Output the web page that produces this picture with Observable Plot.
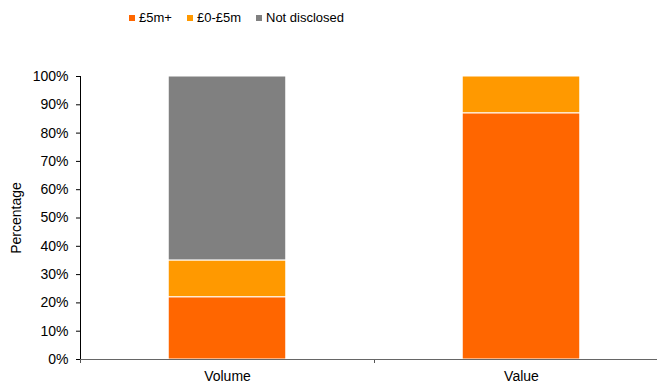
<!DOCTYPE html>
<html>
<head>
<meta charset="utf-8">
<script src="https://cdn.jsdelivr.net/npm/d3@7"></script>
<script src="https://cdn.jsdelivr.net/npm/@observablehq/plot@0.6"></script>
<style>
  html, body { margin: 0; padding: 0; background: #fff; overflow: hidden; }
  body { width: 657px; height: 385px; font-family: Arial, "Liberation Sans", sans-serif; }
  #legend { height: 40px; position: relative; font-size: 13px; color: #000; }
  #legend .item { position: absolute; top: 10px; display: flex; align-items: center; white-space: nowrap; }
  #legend .sw { width: 6px; height: 6px; margin-right: 4px; display: inline-block; }
</style>
</head>
<body>
<div id="legend"></div>
<div id="chart"></div>
<script>
const categories = ["Volume", "Value"];
const series = ["£5m+", "£0-£5m", "Not disclosed"];
const colors = ["#FF6600", "#FF9900", "#808080"];
const volumeValues = [0.22, 0.13, 0.65];
const valueValues = [0.87, 0.13, 0.00];
const yTicks = [0, 0.1, 0.2, 0.3, 0.4, 0.5, 0.6, 0.7, 0.8, 0.9, 1.0];
const bandEdges = [-0.5, 0.5, 1.5];
const barHalf = 0.2;

const seriesValues = [volumeValues, valueValues];
const rows = [];
categories.forEach((c, i) => {
  let acc = 0;
  series.forEach((s, j) => {
    const v = seriesValues[i][j];
    if (v > 0) rows.push({cat: i, series: s, y1: acc, y2: acc + v});
    acc += v;
  });
});

// legend
const legend = document.getElementById("legend");
const legendX = [129, 187, 256];
series.forEach((s, j) => {
  const it = document.createElement("div");
  it.className = "item";
  it.style.left = legendX[j] + "px";
  it.innerHTML = `<span class="sw" style="background:${colors[j]}"></span><span>${s}</span>`;
  legend.appendChild(it);
});

const chart = Plot.plot({
  width: 657,
  height: 345,
  marginLeft: 80,
  marginRight: 0,
  marginTop: 36,
  marginBottom: 26,
  style: {fontFamily: "Arial, 'Liberation Sans', sans-serif", fontSize: "14px", color: "#000", background: "#fff"},
  x: {domain: [-0.5, 1.5], range: [80, 668]},
  y: {domain: [0, 1]},
  color: {domain: series, range: colors},
  marks: [
    Plot.rect(rows, {x1: d => d.cat - barHalf, x2: d => d.cat + barHalf, y1: "y1", y2: "y2", fill: "series", stroke: "white", strokeWidth: 1}),
    Plot.axisY({ticks: yTicks, tickFormat: d => Math.round(d * 100) + "%", tickSize: 4, tickPadding: 8, label: "Percentage", labelAnchor: "center", labelArrow: "none", labelOffset: 69, stroke: "#000", fill: "#000"}),
    Plot.ruleX([bandEdges[0]], {stroke: "#000"}),
    Plot.axisX({ticks: bandEdges, tickFormat: () => "", tickSize: 4, stroke: "#555"}),
    Plot.axisX({ticks: [0, 1], tickFormat: i => categories[i], tickSize: 0, tickPadding: 12, label: null, fill: "#000"}),
    Plot.ruleY([0], {stroke: "#666"})
  ]
});
document.getElementById("chart").appendChild(chart);
</script>
</body>
</html>
